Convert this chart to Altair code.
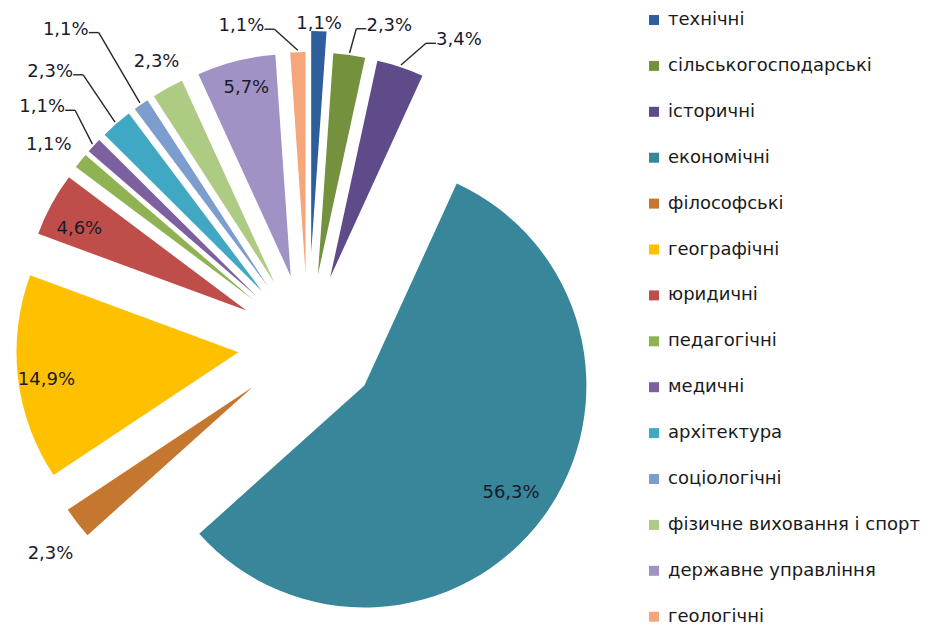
import altair as alt
import pandas as pd

# ---------------- data ----------------
categories = [
    "технічні", "сільськогосподарські", "історичні", "економічні", "філософські",
    "географічні", "юридичні", "педагогічні", "медичні", "архітектура",
    "соціологічні", "фізичне виховання  і спорт", "державне управління", "геологічні",
]
shares = [1.1, 2.3, 3.4, 56.3, 2.3, 14.9, 4.6, 1.1, 1.1, 2.3, 1.1, 2.3, 5.7, 1.1]

# ---------------- style / layout ----------------
colors = [
    "#2E5E9B", "#74923D", "#5F4A8A", "#37869A", "#C6772F",
    "#FFC000", "#BF4E4B", "#8FB352", "#7D60A0", "#41A8C4",
    "#7C9DCD", "#ADCB82", "#A092C4", "#F5A67B",
]
CX, CY = 300, 336          # pie centre in plot pixels
R = 222                    # pie radius
EXPLODE = 70               # slice explosion distance
extra_explode = {"технічні": 21}
# label distance from the slice tip (px) and optional absolute angle (deg)
label_r = {
    "технічні": 229, "сільськогосподарські": 259, "історичні": 270, "економічні": 182,
    "філософські": 262, "географічні": 194, "юридичні": 186, "педагогічні": 257,
    "медичні": 286, "архітектура": 305, "соціологічні": 327,
    "фізичне виховання  і спорт": 250, "державне управління": 193, "геологічні": 256,
}
label_angle = {
    "сільськогосподарські": 16.0, "історичні": 28.5, "філософські": 230.5,
    "географічні": 261.8, "юридичні": 296.0, "педагогічні": 307.2,
    "медичні": 311.4, "архітектура": 316, "соціологічні": 321.8,
    "фізичне виховання  і спорт": 331.9, "державне управління": 346.7, "геологічні": 345.5,
}
# leader lines: +1 attach at right end of label, -1 at left end
leader_side = {
    "сільськогосподарські": -1, "історичні": -1, "медичні": 1,
    "архітектура": 1, "соціологічні": 1, "геологічні": 1,
}
HALF_W = 23
ELBOW = 10

df = pd.DataFrame({
    "cat": categories,
    "val": shares,
    "order": list(range(len(categories))),
    "lab": [f"{v:.1f}%".replace(".", ",") for v in shares],
    "extra": [extra_explode.get(c, 0) for c in categories],
    "lr": [label_r[c] for c in categories],
    "la": [label_angle.get(c, -1) for c in categories],
    "side": [leader_side.get(c, 0) for c in categories],
})

base = (
    alt.Chart(df)
    .transform_window(cum="sum(val)", sort=[alt.SortField("order")], frame=[None, 0])
    .transform_joinaggregate(total="sum(val)")
    .transform_calculate(t1="datum.cum / datum.total * 2 * PI")
    .transform_calculate(t0="(datum.cum - datum.val) / datum.total * 2 * PI")
    .transform_calculate(mid="(datum.t0 + datum.t1) / 2")
    .transform_calculate(cx=f"{CX} + ({EXPLODE} + datum.extra) * sin(datum.mid)")
    .transform_calculate(cy=f"{CY} - ({EXPLODE} + datum.extra) * cos(datum.mid)")
    .transform_calculate(la2="datum.la < 0 ? datum.mid : datum.la * PI / 180")
    .transform_calculate(lx="datum.cx + datum.lr * sin(datum.la2)")
    .transform_calculate(ly="datum.cy - datum.lr * cos(datum.la2)")
    .transform_calculate(px=f"datum.cx + {R + 2} * sin(datum.mid)")
    .transform_calculate(py=f"datum.cy - {R + 2} * cos(datum.mid)")
    .transform_calculate(sx=f"datum.lx + datum.side * {HALF_W}")
    .transform_calculate(sy="datum.ly + 3")
    .transform_calculate(exx=f"datum.sx + datum.side * {ELBOW}")
)

arcs = base.mark_arc(outerRadius=R).encode(
    x=alt.X("cx:Q", scale=None, axis=None),
    y=alt.Y("cy:Q", scale=None, axis=None),
    theta=alt.Theta("t0:Q", scale=None),
    theta2="t1:Q",
    color=alt.Color(
        "cat:N",
        scale=alt.Scale(domain=categories, range=colors),
        sort=categories,
        legend=alt.Legend(
            title=None, orient="none", legendX=637, legendY=3,
            symbolType="square", symbolSize=100, symbolStrokeWidth=0,
            labelFont="DejaVu Sans", labelFontSize=18, labelColor="#1a1a1a",
            labelLimit=400, rowPadding=27.9, labelOffset=5,
        ),
    ),
)

leaders = base.transform_filter("datum.side != 0")
seg1 = leaders.mark_rule(color="#262626", strokeWidth=1.4).encode(
    x=alt.X("sx:Q", scale=None), x2="exx:Q",
    y=alt.Y("sy:Q", scale=None), y2="sy:Q",
)
seg2 = leaders.mark_rule(color="#262626", strokeWidth=1.4).encode(
    x=alt.X("exx:Q", scale=None), x2="px:Q",
    y=alt.Y("sy:Q", scale=None), y2="py:Q",
)

texts = base.mark_text(
    font="DejaVu Sans", fontSize=18, color="#1a1a2a", align="center", baseline="middle"
).encode(
    x=alt.X("lx:Q", scale=None),
    y=alt.Y("ly:Q", scale=None),
    text="lab:N",
)

chart = (
    alt.layer(arcs, seg1, seg2, texts)
    .properties(width=620, height=615, padding=0)
    .configure_view(stroke=None)
)

chart.save("out.html", embed_options={"renderer": "svg", "actions": False})
